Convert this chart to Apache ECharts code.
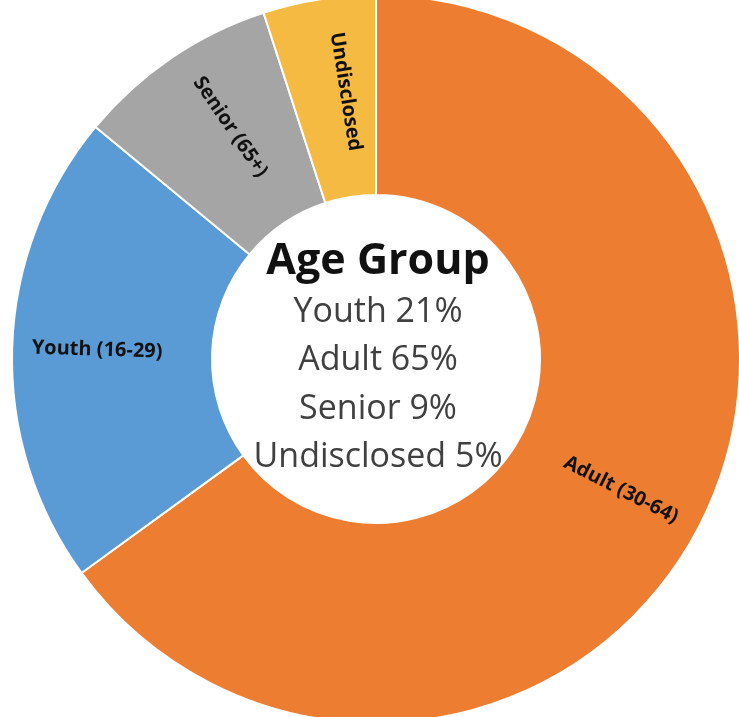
<!DOCTYPE html>
<html>
<head>
<meta charset="utf-8">
<script src="https://cdn.jsdelivr.net/npm/echarts@6/dist/echarts.min.js"></script>
<style>
  html, body { margin: 0; padding: 0; background: #fff; }
  #chart { width: 739px; height: 717px; }
</style>
</head>
<body>
<div id="chart"></div>
<script>
// age groups as listed in the centre of the donut
const groups = ['Youth', 'Adult', 'Senior', 'Undisclosed'];
const ranges = ['(16-29)', '(30-64)', '(65+)', ''];
const shares = [21, 65, 9, 5];
const colors = ['#5B9BD5', '#ED7D31', '#A5A5A5', '#F5BA42'];
// slices go clockwise from 12 o'clock in this order
const sliceOrder = [1, 0, 2, 3];

const centreTitle = 'Age Group';

window.onload = () => {
    const chart = echarts.init(document.getElementById('chart'));

    const pieData = sliceOrder.map(i => ({
        name: ranges[i] ? groups[i] + ' ' + ranges[i] : groups[i],
        value: shares[i],
        itemStyle: { color: colors[i] }
    }));

    const centreLines = groups.map((g, i) => g + ' ' + shares[i] + '%');

    const cx = 376, cy = 359;

    chart.setOption({
        animation: false,
        series: [{
            type: 'pie',
            center: [cx, cy],
            radius: [164, 364],
            startAngle: 90,
            clockwise: true,
            itemStyle: { borderColor: '#fff', borderWidth: 2 },
            label: {
                show: true,
                position: 'inside',
                rotate: 'radial',
                color: '#111',
                fontFamily: 'Open Sans',
                fontWeight: 'bold',
                fontSize: 20
            },
            // nudge the labels a little toward the outer edge
            labelLayout: function (params) {
                const r = params.labelRect;
                const lx = r.x + r.width / 2 - cx;
                const ly = r.y + r.height / 2 - cy;
                const len = Math.sqrt(lx * lx + ly * ly) || 1;
                return { dx: lx / len * 12, dy: ly / len * 12 };
            },
            labelLine: { show: false },
            data: pieData
        }],
        graphic: [
            {
                type: 'text',
                x: cx + 2, y: 262,
                style: {
                    text: centreTitle,
                    fill: '#111',
                    font: 'bold 43px "Open Sans"',
                    align: 'center',
                    verticalAlign: 'middle'
                }
            },
            ...centreLines.map((t, i) => ({
                type: 'text',
                x: cx + 2, y: 312 + i * 48.5,
                style: {
                    text: t,
                    fill: '#404040',
                    font: '34px "Open Sans"',
                    align: 'center',
                    verticalAlign: 'middle'
                }
            }))
        ]
    });
};
</script>
</body>
</html>
